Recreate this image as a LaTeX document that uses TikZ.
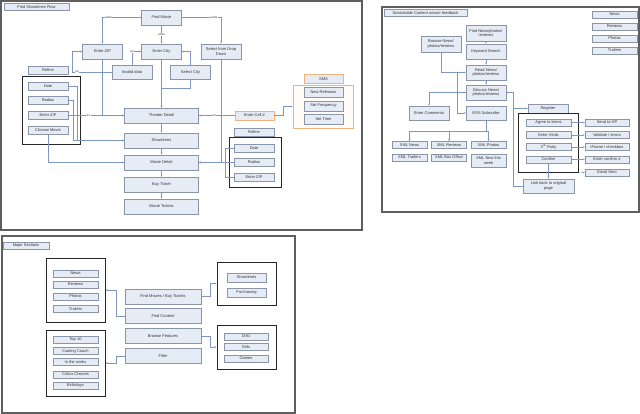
\documentclass[tikz,border=0pt]{standalone}
\usepackage{fontspec}
\setmainfont{Liberation Sans}
\usetikzlibrary{arrows.meta,calc}
\definecolor{flowfill}{HTML}{E6ECF6}
\definecolor{flowedge}{HTML}{8A96A8}
\definecolor{flowlink}{HTML}{7F96BE}
\definecolor{flowsms}{HTML}{F2B27E}
\definecolor{flowcream}{HTML}{FFFBF6}
\definecolor{flowpanel}{HTML}{5E5E5E}
\definecolor{flowtext}{HTML}{333333}
\tikzset{
  blk/.style={draw=flowedge, fill=flowfill, align=center, text=flowtext, inner sep=0.5pt, line width=0.5pt, minimum width=40pt, minimum height=15pt},
  itm/.style={blk, minimum height=8pt},
  hot/.style={blk, draw=flowsms, line width=0.7pt},
  grp/.style={draw=black!85, line width=0.8pt, inner sep=0pt},
  pnl/.style={draw=flowpanel, line width=1.2pt},
  ttl/.style={blk, minimum height=7pt},
  arr/.style={-{Stealth[length=2.2pt,width=1.8pt]}, line width=0.4pt, color=flowlink},
  lnk/.style={line width=0.4pt, color=flowlink},
  lbl/.style={fill=white, inner sep=0.4pt, font=\fontsize{3.2}{3.5}\selectfont, text=flowtext},
}
\begin{document}
\begin{tikzpicture}[x=1pt, y=-1pt, font=\fontsize{4}{4.6}\selectfont]
\useasboundingbox (0,0) rectangle (640,414);
\draw[pnl] (1,1) rectangle (362,230);
\node[ttl, minimum width=65pt] (ttlflow) at (36.5,7) {Find Showtimes Flow};
\node[blk] (findmovie) at (161.5,17.5) {Find Movie};
\node[blk] (enterzip) at (102.5,51.5) {Enter ZIP};
\node[blk] (entercity) at (161.5,51.5) {Enter City};
\node[blk, minimum height=14pt] (invalid) at (132,72) {Invalid data};
\node[blk, minimum height=14pt] (selectcity) at (190.5,72) {Select City};
\node[blk] (dropdown) at (221,51.5) {Select from Drop\\Down};
\node[blk, minimum width=74pt] (theater) at (161.5,115.5) {Theater Detail};
\node[blk, minimum width=74pt] (showtimes) at (161.5,140.5) {Showtimes};
\node[blk, minimum width=74pt] (moviedetail) at (161.5,162.5) {Movie Detail};
\node[blk, minimum width=74pt] (buyticket) at (161.5,184.5) {Buy Ticket};
\node[blk, minimum width=74pt] (movietickets) at (161.5,206.5) {Movie Tickets};
\node[itm] (refinel) at (48,70.5) {Refine};
\node[grp, minimum width=58pt, minimum height=68pt] (refinelbox) at (51,110) {};
\foreach \n/\t/\y in {ldate/Date/86, lradius/Radius/100.5, lzip/Enter ZIP/115.5, lmovie/Choose Movie/130.5}
  \node[itm] (\n) at (48,\y) {\t};
\node[itm] (refiner) at (254,132.5) {Refine};
\node[grp, minimum width=52pt, minimum height=50pt] (refinerbox) at (255,162) {};
\foreach \n/\t/\y in {rdate/Date/148, rradius/Radius/162.5, rzip/Enter ZIP/177.5}
  \node[itm] (\n) at (254,\y) {\t};
\node[hot, minimum width=39pt, minimum height=9pt] (sms) at (323.5,79) {SMS};
\node[draw=flowsms, line width=0.7pt, fill=flowcream, minimum width=60pt, minimum height=43pt] (smsbox) at (323,106.5) {};
\foreach \n/\t/\y in {newrel/New Releases/92, setfreq/Set Frequency/106, settime/Set Time/119}
  \node[itm, minimum width=39pt, minimum height=10pt] (\n) at (323.5,\y) {\t};
\node[hot, minimum width=39pt, minimum height=9pt] (cell) at (254.5,115.5) {Enter Cell \#};
\draw[arr] (findmovie.west) -| node[lbl, pos=0.42]{uses} (enterzip.north);
\draw[arr] (findmovie) -- node[lbl]{uses} (entercity);
\draw[arr] (findmovie.east) -| node[lbl, pos=0.41]{uses} (dropdown.north);
\draw[arr] (invalid.west) -- node[lbl, pos=0.87]{ex} (72,72) |- (enterzip.west);
\draw[arr] (invalid.north) |- node[lbl, pos=0.5]{ex} (entercity.west);
\draw[arr] (selectcity.north) |- (entercity.east);
\draw[arr] (entercity) -- (theater);
\draw[arr] (selectcity.south) -- ++(0,9) -| (theater.north);
\draw[arr] (enterzip.south) |- (theater.west);
\draw[arr] (lzip.east) -- node[lbl, pos=0.36]{ex} (theater.west);
\draw[arr] (ldate.east) -- ++(9,0) |- (showtimes.west);
\draw[arr] (lradius.east) -- ++(5,0) |- (showtimes.west);
\draw[arr] (lmovie.south) |- (moviedetail.west);
\draw[arr] (theater) -- (showtimes);
\draw[arr] (showtimes) -- (moviedetail);
\draw[arr] (moviedetail) -- (buyticket);
\draw[arr] (buyticket) -- (movietickets);
\draw[arr] (cell.west) -- node[lbl, pos=0.57]{ex} (theater.east);
\draw[arr] (dropdown.south) |- (moviedetail.east);
\draw[lnk] (rdate.west) -- ++(-9,0) |- (rzip.west);
\draw[arr] (rradius.west) -- (moviedetail.east);
\draw[arr] (cell.east) -- ++(9,0) |- (smsbox.west);
\draw[pnl] (382,7) rectangle (639,212);
\node[ttl, minimum width=83pt] (ttlsearch) at (425.5,13) {Searchable Content w/user feedback};
\foreach \n/\t/\y in {tnews/News/14.5, treviews/Reviews/26.5, tphotos/Photos/38.5, ttrailers/Trailers/50.5}
  \node[itm, minimum width=45pt, minimum height=7pt] (\n) at (614.5,\y) {\t};
\node[blk, minimum height=16pt] (findnews) at (486,33) {Find News/photos/\\reviews/};
\node[blk] (keyword) at (486,51.5) {Keyword Search};
\node[blk, minimum height=16pt] (browse) at (441,44) {Browse News/\\photos/reviews};
\node[blk] (readnews) at (486,72.5) {Read News/\\photos/reviews};
\node[blk] (discuss) at (486,92.5) {Discuss News/\\photos/reviews};
\node[blk, minimum height=14pt] (comments) at (429,113) {Enter Comments};
\node[blk, minimum height=14pt] (rss) at (486,113) {RSS Subscribe};
\foreach \n/\t/\x/\y in {xmlnews/XML News/409.5/145, xmlreviews/XML Reviews/449/145, xmlphotos/XML Photos/488.5/145, xmltrailers/XML Trailers/409.5/157.5, xmlbox/XML Box Office/449/157.5}
  \node[itm, minimum width=35pt, minimum height=7pt] (\n) at (\x,\y) {\t};
\node[itm, minimum width=35pt, minimum height=13pt] (xmlweek) at (488.5,160.5) {XML New this\\week};
\node[itm, minimum height=9pt] (register) at (548,108.5) {Register};
\node[grp, minimum width=60pt, minimum height=59.5pt] (regbox) at (548,142.75) {};
\foreach \n/\t/\y in {agree/Agree to terms/122.5, vitals/Enter Vitals/135, third/{3\textsuperscript{rd} Party}/147, confirm/Confirm/159.5}
  \node[itm, minimum width=45pt, minimum height=7pt] (\n) at (548.5,\y) {\t};
\foreach \n/\t/\y in {sendhp/Send to HP/122.5, validate/{Validate / errors}/135, iframe/{iFrame / checkbox}/147, confnum/Enter confirm \#/159.5, emailsent/Email Sent/172.5}
  \node[itm, minimum width=44pt, minimum height=7pt] (\n) at (607,\y) {\t};
\node[blk, minimum width=51pt, minimum height=14pt] (linkback) at (548.5,186) {Link back to original\\page};
\draw[arr] (findnews) -- (keyword);
\draw[arr] (keyword) -- (readnews);
\draw[arr] (browse.south) |- (readnews.west);
\draw[arr] ($(readnews.west)+(-9,0)$) |- (rss.west);
\draw[arr] (readnews) -- (discuss);
\draw[arr] (discuss.west) -| (comments.north);
\draw[lnk] (rss.south) -- ++(0,10.5) coordinate (rssj);
\foreach \n in {xmlnews, xmlreviews, xmlphotos}
  \draw[arr] (rssj) -| (\n.north);
\draw[arr] (linkback.west) -- ++(-10,0) coordinate (lbk) |- (discuss.east);
\draw[arr] (lbk |- register.west) -- (register.west);
\foreach \a/\b in {agree/sendhp, vitals/validate, third/iframe, confirm/confnum}
  \draw[arr] (\a.east) -- (\b.west);
\draw[arr] (regbox.south east) -- (emailsent.west);
\draw[arr, {Stealth[length=2.2pt,width=1.8pt]}-{Stealth[length=2.2pt,width=1.8pt]}] (confirm.south) -- (linkback.north);
\draw[pnl] (2,236) rectangle (295,413);
\node[ttl, minimum width=46pt] (ttlmajor) at (26,245.5) {Major Sections};
\foreach \n/\t/\y in {findmovies/{Find Movies / Buy Tickets}/296.5, findcontent/Find Content/316, browsefeat/Browse Features/336, filler/Filler/356}
  \node[blk, minimum width=76pt] (\n) at (163,\y) {\t};
\node[grp, minimum width=59pt, minimum height=64pt] (grpnews) at (75.5,290) {};
\node[grp, minimum width=59pt, minimum height=66pt] (grptop) at (75.5,363) {};
\node[grp, minimum width=59pt, minimum height=43pt] (grpshow) at (246.5,283.5) {};
\node[grp, minimum width=59pt, minimum height=44pt] (grpdvd) at (246.5,347) {};
\foreach \n/\t/\y in {snews/News/273.5, sreviews/Reviews/284.5, sphotos/Photos/296.5, strailers/Trailers/309, stop/Top 10/339.5, scasting/Casting Couch/351, sworks/In the works/362, scritics/Critics Choices/374.5, sbirth/Birthdays/385.5}
  \node[itm, minimum width=45pt, minimum height=7pt] (\n) at (75.5,\y) {\t};
\foreach \n/\t/\y in {sshow/Showtimes/277.5, spurch/Purchasing/292.5}
  \node[itm, minimum width=39pt, minimum height=9pt] (\n) at (246.5,\y) {\t};
\foreach \n/\t/\y in {sdvd/DVD/336.5, sgirls/Girls/347, sgames/Games/358.5}
  \node[itm, minimum width=44pt, minimum height=7pt] (\n) at (246,\y) {\t};
\draw[arr] (findmovies.east) -- ++(9,0) |- (grpshow.west);
\draw[arr] (findcontent.west) -- ++(-9,0) |- (grpnews.east);
\draw[arr] (browsefeat.east) -- ++(9,0) |- (grpdvd.west);
\draw[arr] (filler.west) -- ++(-9,0) |- (grptop.east);
\end{tikzpicture}
\end{document}
